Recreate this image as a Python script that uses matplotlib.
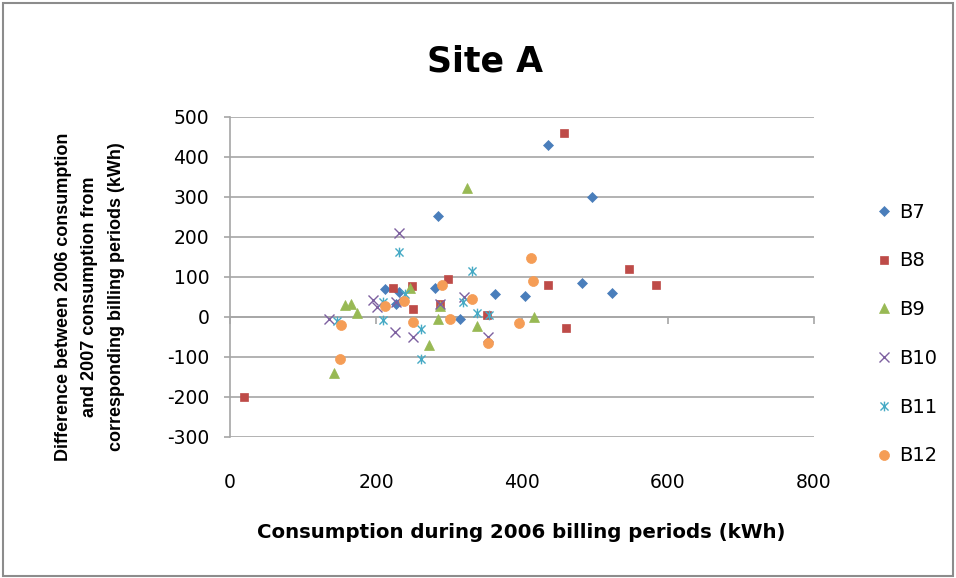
import matplotlib
matplotlib.use('Agg')
import matplotlib.pyplot as plt
from matplotlib.path import Path
from matplotlib.patches import Rectangle
from matplotlib.ticker import NullFormatter

plt.rcParams['font.family'] = ['DejaVu Sans']
plt.rcParams['axes.unicode_minus'] = False

# values (kWh)
b7_x = [212, 231, 228, 285, 281, 315, 363, 404, 435, 482, 496, 523]
b7_y = [71, 63, 33, 252, 73, -5, 57, 53, 430, 86, 299, 61]
b8_x = [19, 223, 249, 250, 288, 298, 352, 435, 458, 460, 547, 584]
b8_y = [-200, 73, 78, 20, 32, 95, 5, 81, 460, -28, 120, 80]
b9_x = [142, 158, 166, 174, 247, 272, 285, 288, 325, 339, 417]
b9_y = [-140, 31, 32, 10, 72, -71, -5, 28, 323, -23, 0]
b10_x = [136, 196, 201, 228, 226, 232, 251, 288, 321, 354]
b10_y = [-6, 42, 25, 38, -37, 209, -50, 33, 50, -50]
b11_x = [146, 209, 210, 231, 240, 262, 262, 319, 332, 338, 355]
b11_y = [-10, -7, 38, 163, 58, -31, -105, 37, 116, 11, 4]
b12_x = [150, 152, 212, 239, 250, 291, 301, 332, 354, 396, 412, 415]
b12_y = [-106, -19, 28, 40, -13, 80, -5, 45, -66, -15, 148, 90]

names = ['B7', 'B8', 'B9', 'B10', 'B11', 'B12']
xs = [b7_x, b8_x, b9_x, b10_x, b11_x, b12_x]
ys = [b7_y, b8_y, b9_y, b10_y, b11_y, b12_y]

# excel style "star": an x with a vertical bar through it
star = Path([(-1, -1), (1, 1), (-1, 1), (1, -1), (0, -1.2), (0, 1.2)],
            [Path.MOVETO, Path.LINETO, Path.MOVETO, Path.LINETO, Path.MOVETO, Path.LINETO])

styles = [
    dict(marker='D', color='#4A7EBB', ms=5.5),
    dict(marker='s', color='#BE4B48', ms=6.2),
    dict(marker='^', color='#98B954', ms=6.8),
    dict(marker='x', color='#7D60A0', ms=6.5, mew=1.0),
    dict(marker=star, color='#46AAC5', ms=7, mew=1.0),
    dict(marker='o', color='#F59D56', ms=7.2),
]

fig = plt.figure(figsize=(9.56, 5.78), dpi=100)
ax = fig.add_axes([230/956, 1-437/578, 584/956, 320/578])

for name, x, y, st in zip(names, xs, ys, styles):
    ax.plot(x, y, linestyle='none', marker=st['marker'], color=st['color'],
            markersize=st['ms'], markeredgewidth=st.get('mew', 0.5),
            label=name, zorder=3)

ax.set_xlim(0, 800)
ax.set_ylim(-300, 500)
ax.set_yticks(range(-300, 501, 100))
ax.set_xticks(range(0, 801, 200))

grid_col = '#A6A6A6'
ax.grid(axis='y', color=grid_col, linewidth=1.2, zorder=0)
ax.set_axisbelow(True)
for s in ['top', 'right', 'bottom']:
    ax.spines[s].set_visible(False)
ax.spines['left'].set_color(grid_col)
ax.spines['left'].set_linewidth(1.2)

ax.tick_params(axis='y', direction='out', length=4, width=1.2, color=grid_col,
               labelsize=13.5, pad=11)
ax.tick_params(axis='x', length=0, labelsize=13.5, pad=26)

# horizontal axis crosses at y = 0, labels stay at the bottom
sec = ax.secondary_xaxis(300/800)
sec.set_xticks(range(0, 801, 200))
sec.xaxis.set_major_formatter(NullFormatter())
sec.tick_params(axis='x', direction='out', length=5, width=1.2, color=grid_col)
sec.spines['bottom'].set_color(grid_col)
sec.spines['bottom'].set_linewidth(1.2)

fig.text(485/956, 1-61/578, 'Site A', fontsize=25, fontweight='bold',
         ha='center', va='center')
fig.text(521/956, 1-532/578, 'Consumption during 2006 billing periods (kWh)',
         fontsize=14.2, fontweight='bold', ha='center', va='center')
fig.text(90/956, 1-297/578,
         'Difference between 2006 consumption\nand 2007 consumption from\ncorresponding billing periods (kWh)',
         fontsize=13, fontweight='bold', ha='center', va='center',
         rotation=90, linespacing=1.7, multialignment='center',
         family=['Liberation Sans', 'DejaVu Sans'])

fig.legend(loc='center left', bbox_to_anchor=(868/956, 1-334/578), frameon=False,
           fontsize=14, handlelength=0.8, handletextpad=0.4, labelspacing=1.53,
           borderaxespad=0)

fig.patches.append(Rectangle((3/956, 2/578), 950/956, 573/578, transform=fig.transFigure,
                             fill=False, edgecolor='#8C8C8C', linewidth=1.5))

fig.savefig('out.png', dpi=100)
